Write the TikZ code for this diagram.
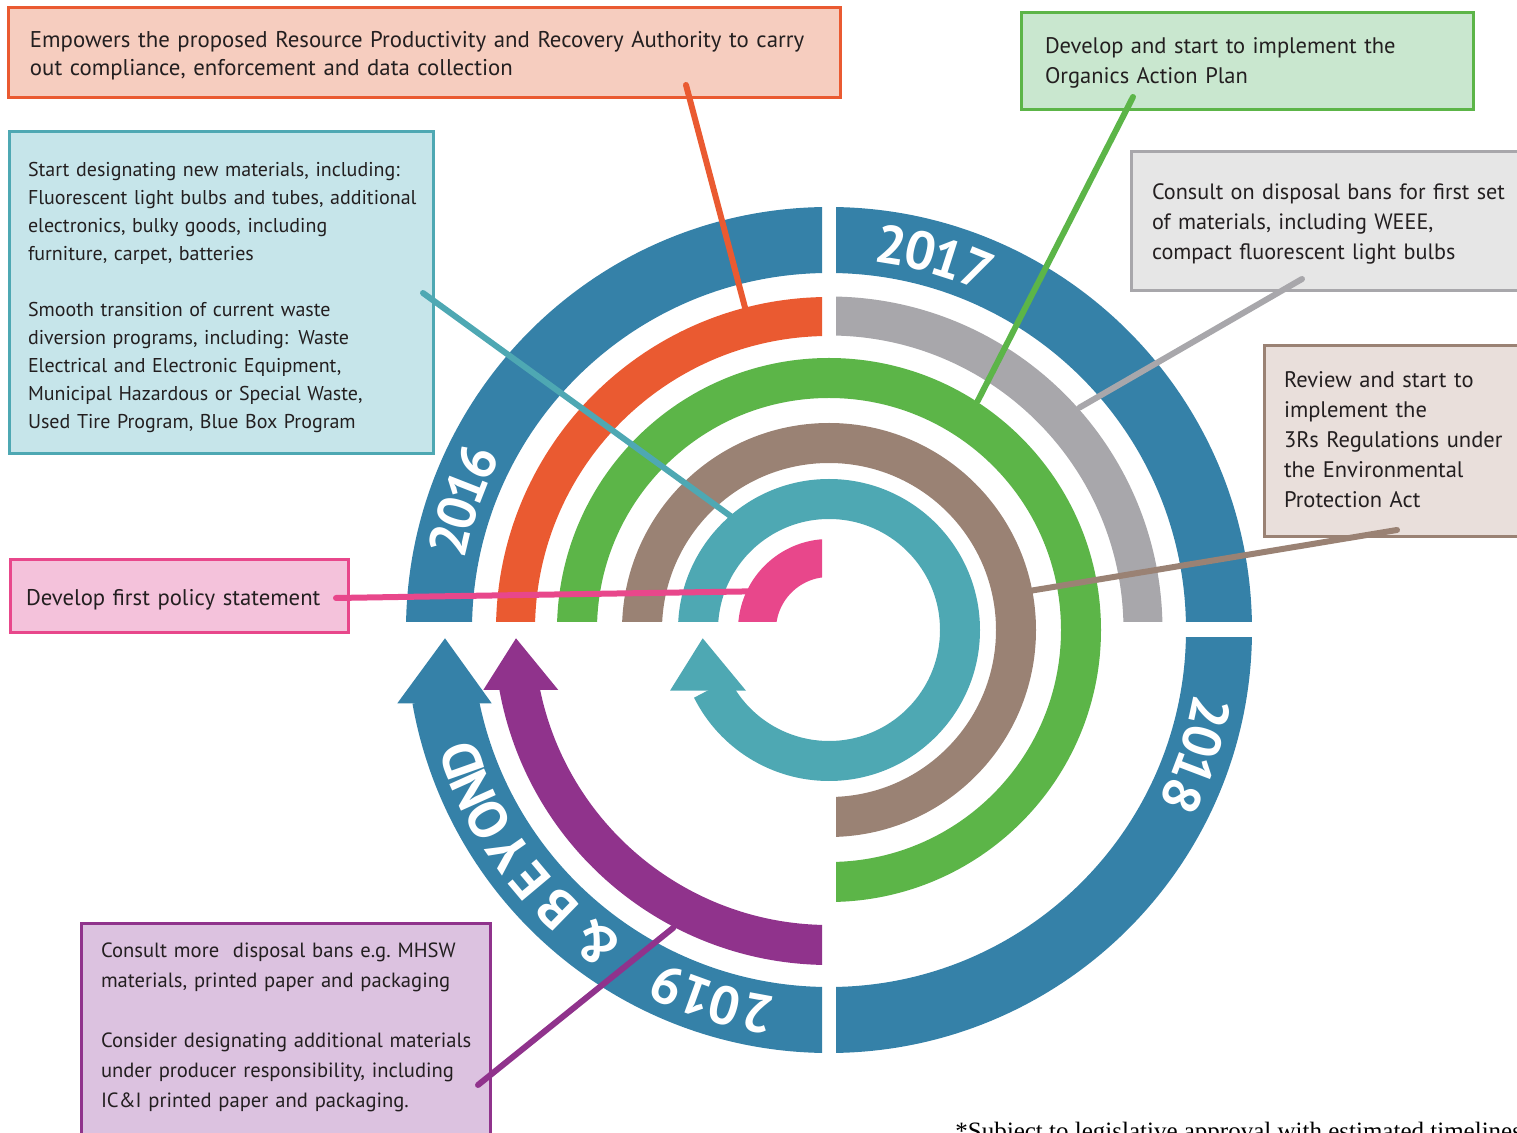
\documentclass[tikz,border=0pt]{standalone}
\usepackage{fontspec}
\setmainfont{PT Sans}
\newfontfamily\footserif{Liberation Serif}
\usetikzlibrary{calc}

\definecolor{yearblue}{HTML}{3581A8}
\definecolor{authorityorange}{HTML}{EA5A31}
\definecolor{authorityfill}{HTML}{F6CDBF}
\definecolor{disposalgrey}{HTML}{A8A7AB}
\definecolor{disposalfill}{HTML}{E6E6E6}
\definecolor{organicsgreen}{HTML}{5CB548}
\definecolor{organicsfill}{HTML}{C9E7CF}
\definecolor{regsbrown}{HTML}{9A8274}
\definecolor{regsfill}{HTML}{E9DFDB}
\definecolor{designateteal}{HTML}{4EA8B3}
\definecolor{designatefill}{HTML}{C6E5EA}
\definecolor{policypink}{HTML}{E8478B}
\definecolor{policyfill}{HTML}{F4C2DB}
\definecolor{consultpurple}{HTML}{90338C}
\definecolor{consultfill}{HTML}{DCC2E0}
\definecolor{bodytext}{HTML}{231F20}

\newcommand{\boxlines}[1]{\noindent\begin{tabular}{@{}l@{}}#1\end{tabular}}
\newcommand{\topgap}[1]{\rule{0pt}{#1}}

\tikzset{
  infobox/.style 2 args={rectangle, draw=#1, fill=#2, line width=1.5pt, outer sep=0pt,
    inner ysep=0pt, anchor=north west, text=bodytext, font=\fontsize{11}{14}\selectfont},
  yearchar/.style={text=white, inner sep=0pt, font=\bfseries\fontsize{27}{27}\selectfont},
  link/.style={line width=3pt, line cap=round},
}

\begin{document}
\begin{tikzpicture}[x=0.5pt, y=0.5pt]
\useasboundingbox (0,0) rectangle (1517,-1133);

% text boxes
\node[infobox={authorityorange}{authorityfill}, inner xsep=11pt, text width=394pt, minimum height=45pt,
  font=\fontsize{11.4}{14}\selectfont]
  (authoritybox) at (8,-8) {\boxlines{\topgap{12.8pt}Empowers the proposed Resource Productivity and Recovery Authority to carry\\
  out compliance, enforcement and data collection}};
\node[infobox={designateteal}{designatefill}, inner xsep=9.5pt, text width=193pt, minimum height=161pt,
  font=\fontsize{10}{14}\selectfont]
  (designatebox) at (9,-132) {\boxlines{\topgap{13.8pt}Start designating new materials, including:\\
  Fluorescent light bulbs and tubes, additional\\
  electronics, bulky goods, including\\
  furniture, carpet, batteries\\[14pt]
  Smooth transition of current waste\\
  diversion programs, including: Waste\\
  Electrical and Electronic Equipment,\\
  Municipal Hazardous or Special Waste,\\
  Used Tire Program, Blue Box Program}};
\node[infobox={policypink}{policyfill}, inner xsep=8pt, text width=153pt, minimum height=36.5pt,
  font=\fontsize{11.35}{14}\selectfont]
  (policybox) at (10,-560) {\boxlines{\topgap{13.3pt}Develop first policy statement}};
\node[infobox={organicsgreen}{organicsfill}, inner xsep=12pt, text width=202pt, minimum height=48.5pt,
  font=\fontsize{11.25}{15}\selectfont]
  (organicsbox) at (1021,-13) {\boxlines{\topgap{11.5pt}Develop and start to implement the\\
  Organics Action Plan}};
\node[infobox={disposalgrey}{disposalfill}, inner xsep=10.5pt, text width=193.5pt, minimum height=69.5pt,
  font=\fontsize{11.1}{15}\selectfont]
  (disposalbox) at (1131,-152) {\boxlines{\topgap{12.5pt}Consult on disposal bans for first set\\
  of materials, including WEEE,\\
  compact fluorescent light bulbs}};
\node[infobox={regsbrown}{regsfill}, inner xsep=10pt, text width=128pt, minimum height=95.5pt,
  font=\fontsize{11.25}{15}\selectfont]
  (regsbox) at (1264,-346) {\boxlines{Review and start to\\
  implement the\\
  3Rs Regulations under\\
  the Environmental\\
  Protection Act}};
\node[infobox={consultpurple}{consultfill}, inner xsep=10pt, text width=184.5pt, minimum height=113pt,
  font=\fontsize{10.3}{15}\selectfont]
  (consultbox) at (81,-924) {\boxlines{\topgap{13pt}Consult more~ disposal bans e.g.\ MHSW\\
  materials, printed paper and packaging\\[15pt]
  Consider designating additional materials\\
  under producer responsibility, including\\
  IC\&I printed paper and packaging.\\[13pt]}};

\node[anchor=base west, inner sep=0pt, font=\footserif\fontsize{12.5}{14}\selectfont]
  (footnote) at (955,-1139) {*Subject to legislative approval with estimated timelines};

% rings round the centre
\begin{scope}[shift={(829,-630)}]
  % 2016 quarter
  \begin{scope}
    \clip (-1000,8) rectangle (-7,1000);
    \draw[yearblue, line width=33pt] (180:390) arc[start angle=180, end angle=90, radius=390];
    \draw[authorityorange, line width=19.5pt] (180:313.5) arc[start angle=180, end angle=90, radius=313.5];
    \draw[policypink, line width=19pt] (180:72) arc[start angle=180, end angle=90, radius=72];
  \end{scope}
  % 2017 quarter
  \begin{scope}
    \clip (7,8) rectangle (1000,1000);
    \draw[yearblue, line width=33pt] (90:390) arc[start angle=90, end angle=0, radius=390];
    \draw[disposalgrey, line width=19.5pt] (90:314) arc[start angle=90, end angle=0, radius=314];
  \end{scope}
  % 2018 quarter
  \begin{scope}
    \clip (7,-8) rectangle (1000,-1000);
    \draw[yearblue, line width=33pt] (0:390) arc[start angle=0, end angle=-90, radius=390];
  \end{scope}
  % three-quarter bands
  \begin{scope}
    \clip (-1000,8) -- (7,8) -- (7,-1000) -- (1000,-1000) -- (1000,1000) -- (-1000,1000) -- cycle;
    \draw[organicsgreen, line width=20pt] (180:252) arc[start angle=180, end angle=-90, radius=252];
    \draw[regsbrown, line width=20pt] (180:187) arc[start angle=180, end angle=-90, radius=187];
  \end{scope}
  % teal loop
  \begin{scope}
    \clip (0,8) -- (-1000,8) -- (-1000,1000) -- (1000,1000) -- (1000,-1000)
      -- (-1000,-1000) -- (-1000,-8) -- (0,-8) -- cycle;
    \draw[designateteal, line width=20pt] (180:131) arc[start angle=180, end angle=-153.5, radius=131];
  \end{scope}
  \fill[designateteal] (-126.3,-8.3) -- (-159,-60.7) -- (-83,-60.7) -- cycle;
  % 2019 and beyond arrows
  \begin{scope}
    \clip (-7,-8) rectangle (-1000,-1000);
    \draw[yearblue, line width=33pt] (-90:390) arc[start angle=-90, end angle=-170, radius=390];
    \draw[consultpurple, line width=20pt] (-90:315) arc[start angle=-90, end angle=-170, radius=315];
  \end{scope}
  \fill[yearblue] (-384,-8.3) -- (-431.7,-73.3) -- (-337.3,-73.3) -- cycle;
  \fill[consultpurple] (-313,-8.3) -- (-345.7,-60) -- (-270.7,-60) -- cycle;

  % year labels
  \foreach \a/\ch [count=\i] in {166.7/2, 162.5/0, 158.6/1, 154.4/6}
    \node[yearchar, rotate=\a-90] (yearA\i) at (\a:390) {\ch};
  \foreach \a/\ch [count=\i] in {80.8/2, 76.4/0, 72.2/1, 67.8/7}
    \node[yearchar, rotate=\a-90] (yearB\i) at (\a:390) {\ch};
  \foreach \a/\ch [count=\i] in {-12.2/2, -16.6/0, -20.8/1, -25.2/8}
    \node[yearchar, rotate=\a-90] (yearC\i) at (\a:390) {\ch};
  \foreach \a/\ch [count=\i] in {-100.5/2, -105.5/0, -110/1, -114.5/9, -126.5/\&,
      -134.3/B, -140/E, -145.3/Y, -150.8/O, -155.8/N, -160.5/D}
    \node[yearchar, rotate=\a-90] (yearD\i) at (\a:390) {\ch};

  % where the links meet the bands
  \coordinate (orangeTip) at (104.6:333);
  \coordinate (organicsTip) at (57:273);
  \coordinate (disposalTip) at (41.6:335);
  \coordinate (regsTip) at (11:207);
  \coordinate (designateTip) at (130.6:148);
  \coordinate (policyTip) at (145.6:69);
  \coordinate (consultTip) at (-117.6:336);
\end{scope}

% links
\coordinate (authorityPin) at (686,-85);
\coordinate (organicsPin) at (1133,-97);
\coordinate (disposalPin) at (1302,-279);
\coordinate (regsPin) at (1397,-530);
\coordinate (designatePin) at (423,-293);
\coordinate (policyPin) at (336,-598);
\coordinate (consultPin) at (478,-1085);
\draw[link, authorityorange] (authorityPin) -- (orangeTip);
\draw[link, organicsgreen] (organicsPin) -- (organicsTip);
\draw[link, disposalgrey] (disposalPin) -- (disposalTip);
\draw[link, regsbrown] (regsPin) -- (regsTip);
\draw[link, designateteal] (designatePin) -- (designateTip);
\draw[link, policypink] (policyPin) -- (policyTip);
\draw[link, consultpurple] (consultPin) -- (consultTip);
\end{tikzpicture}
\end{document}
